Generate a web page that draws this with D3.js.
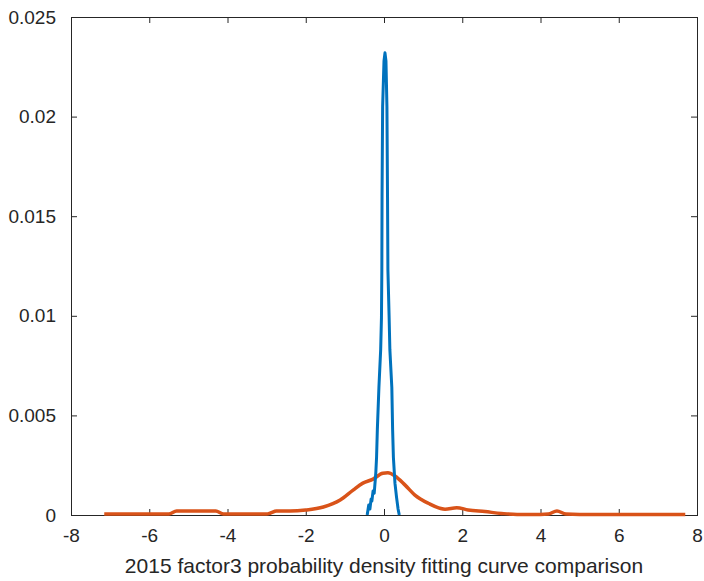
<!DOCTYPE html>
<html>
<head>
<meta charset="utf-8">
<script src="https://cdn.jsdelivr.net/npm/d3@7"></script>
<style>
  body { margin: 0; background: #fff; }
  svg text { font-family: "Liberation Sans", Arial, Helvetica, sans-serif; fill: #262626; }
</style>
</head>
<body>
<div id="chart"></div>
<script>
// data
var blueX = [-0.43, -0.39, -0.36, -0.33, -0.31, -0.28, -0.25, -0.23, -0.21, -0.19, -0.17, -0.13, -0.085, -0.065, -0.055,
  -0.05, -0.035, 0.0, 0.025, 0.05, 0.075, 0.09, 0.10, 0.13, 0.15, 0.2, 0.22, 0.24, 0.28, 0.32, 0.36, 0.39];
var blueY = [0, 0.0005, 0.0003, 0.0008, 0.0007, 0.0012, 0.0011, 0.0016, 0.0021, 0.0029, 0.0043, 0.0064, 0.0083, 0.0099, 0.0123,
  0.0160, 0.0205, 0.0228, 0.0232, 0.0228, 0.0205, 0.0160, 0.0123, 0.0100, 0.0083, 0.0064, 0.0043, 0.0029, 0.0016, 0.0009, 0.0003, 0];

var orangeX = [-7.15, -6.0, -5.5, -5.3, -4.3, -4.1, -3.0, -2.9, -2.75, -2.4, -2.0, -1.55, -1.12, -0.79, -0.54, -0.28,
  -0.03, 0.1, 0.28, 0.54, 0.79, 1.13, 1.56, 1.86, 2.15, 2.58, 3.0, 3.4, 4.0, 4.2, 4.42, 4.65, 5.0, 6.0, 7.0, 7.7];
var orangeY = [0.00005, 0.00005, 0.00005, 0.0002, 0.0002, 0.00005, 0.00005, 0.0001, 0.0002, 0.0002, 0.00025, 0.0004,
  0.00075, 0.00125, 0.0016, 0.0018, 0.0021, 0.00212, 0.00196, 0.0015, 0.001, 0.00059, 0.00029, 0.00037, 0.00025,
  0.00017, 0.00008, 0.00003, 0.00003, 0.00005, 0.0002, 0.00005, 0.00003, 0.00003, 0.00003, 0.00003];

var xTicks = [-8, -6, -4, -2, 0, 2, 4, 6, 8];
var yTicks = [0, 0.005, 0.01, 0.015, 0.02, 0.025];
var xTitle = "2015 factor3 probability density fitting curve comparison";

var width = 704, height = 581;
var margin = { top: 17, right: 7, bottom: 66, left: 71 };
var axisColor = "#262626";

var svg = d3.select("#chart").append("svg")
  .attr("width", width)
  .attr("height", height);

var x = d3.scaleLinear().domain([-8, 8]).range([margin.left, width - margin.right]);
var y = d3.scaleLinear().domain([0, 0.025]).range([height - margin.bottom, margin.top]);

var x0 = x.range()[0], x1 = x.range()[1], y0 = y.range()[0], y1 = y.range()[1];

function styleAxis(g) {
  g.select(".domain").remove();
  g.selectAll(".tick line").attr("stroke", axisColor);
  g.selectAll(".tick text").style("font-size", "19px");
}

// bottom axis, ticks inside
svg.append("g")
  .attr("transform", "translate(0," + y0 + ")")
  .call(d3.axisBottom(x).tickValues(xTicks).tickSizeInner(-6).tickPadding(14).tickFormat(function(d) { return String(d); }))
  .call(styleAxis);

// top ticks
svg.append("g")
  .attr("transform", "translate(0," + y1 + ")")
  .call(d3.axisTop(x).tickValues(xTicks).tickSizeInner(-6).tickFormat(""))
  .call(styleAxis);

// left axis
svg.append("g")
  .attr("transform", "translate(" + x0 + ",0)")
  .call(d3.axisLeft(y).tickValues(yTicks).tickSizeInner(-6).tickPadding(15).tickFormat(function(d) { return d === 0 ? "0" : String(+d.toFixed(3)); }))
  .call(styleAxis);

// right ticks
svg.append("g")
  .attr("transform", "translate(" + x1 + ",0)")
  .call(d3.axisRight(y).tickValues(yTicks).tickSizeInner(-6).tickFormat(""))
  .call(styleAxis);

// box
svg.append("rect")
  .attr("x", x0 + 0.5)
  .attr("y", y1 + 0.5)
  .attr("width", x1 - x0)
  .attr("height", y0 - y1)
  .attr("fill", "none")
  .attr("stroke", axisColor)
  .attr("stroke-width", 1);

var orange = orangeX.map(function(d, i) { return [d, orangeY[i]]; });
var blue = blueX.map(function(d, i) { return [d, blueY[i]]; });

svg.append("path")
  .datum(orange)
  .attr("fill", "none")
  .attr("stroke", "#D95319")
  .attr("stroke-width", 3.5)
  .attr("stroke-linejoin", "round")
  .attr("d", d3.line().x(function(d) { return x(d[0]); }).y(function(d) { return y(d[1]); }).curve(d3.curveMonotoneX));

svg.append("path")
  .datum(blue)
  .attr("fill", "none")
  .attr("stroke", "#0072BD")
  .attr("stroke-width", 3)
  .attr("stroke-linejoin", "round")
  .attr("d", d3.line().x(function(d) { return x(d[0]); }).y(function(d) { return y(d[1]); }));

// x label
svg.append("text")
  .attr("x", (x0 + x1) / 2)
  .attr("y", 573)
  .attr("text-anchor", "middle")
  .style("font-size", "21px")
  .text(xTitle);
</script>
</body>
</html>
